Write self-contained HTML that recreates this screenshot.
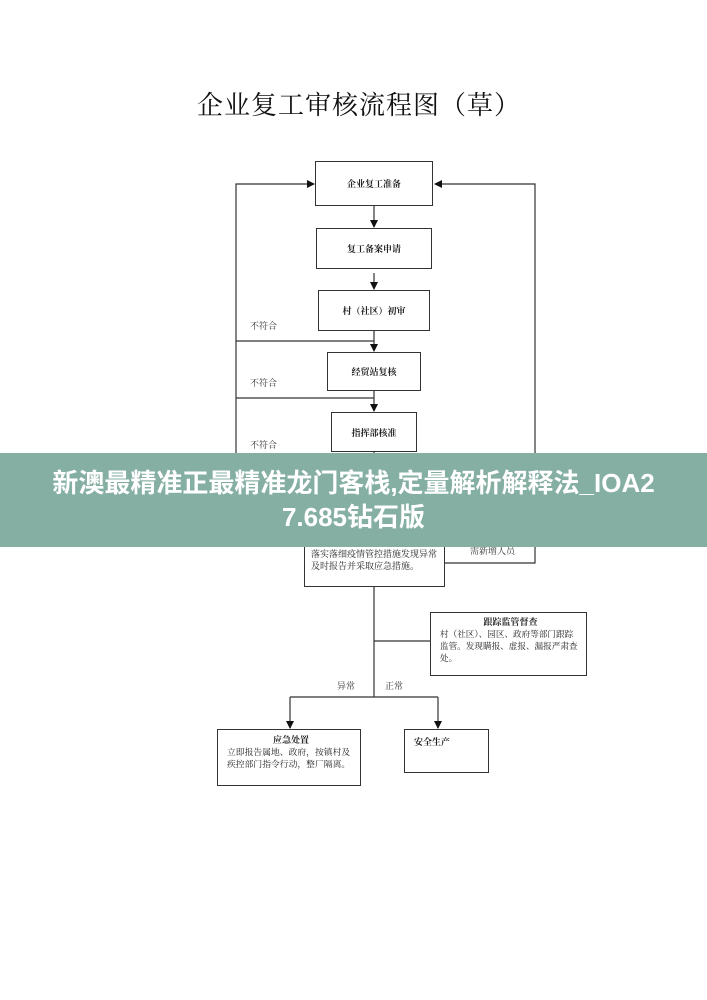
<!DOCTYPE html>
<html><head><meta charset="utf-8"><style>
body{margin:0;width:707px;height:1000px;background:#fff;position:relative;overflow:hidden;font-family:"Liberation Serif","Noto Serif CJK SC",serif;}
.b{position:absolute;border:1.3px solid #333;box-sizing:border-box;background:#fff;font-size:9px;font-weight:bold;display:flex;align-items:center;justify-content:center;color:#222}
.t{position:absolute;font-size:9px;color:#333;line-height:12px}
</style></head><body>
<div style="position:absolute;left:197px;top:85px;font-size:26px;letter-spacing:1px;color:#111;white-space:nowrap">企业复工审核流程图（草）</div>
<svg width="707" height="1000" style="position:absolute;left:0;top:0">
<defs><marker id="a" markerWidth="8" markerHeight="8" refX="7" refY="4" orient="auto" markerUnits="userSpaceOnUse"><path d="M0,0L8,4L0,8z" fill="#111"/></marker></defs>
<g stroke="#333" stroke-width="1.2" fill="none">
<line x1="374" y1="205" x2="374" y2="227" marker-end="url(#a)"/>
<line x1="374" y1="273" x2="374" y2="289" marker-end="url(#a)"/>
<line x1="374" y1="330" x2="374" y2="351" marker-end="url(#a)"/>
<line x1="374" y1="390" x2="374" y2="411" marker-end="url(#a)"/>
<line x1="374" y1="451" x2="374" y2="470"/>
<polyline points="374,341 236,341 236,184 314,184" marker-end="url(#a)"/>
<line x1="236" y1="398" x2="374" y2="398"/>
<line x1="236" y1="459" x2="374" y2="459"/>
<line x1="236" y1="341" x2="236" y2="470"/>
<polyline points="444,563 535,563 535,184 435,184" marker-end="url(#a)"/>
<line x1="374" y1="586" x2="374" y2="697"/>
<line x1="374" y1="641" x2="430" y2="641"/>
<line x1="290" y1="697" x2="438" y2="697"/>
<line x1="290" y1="697" x2="290" y2="728" marker-end="url(#a)"/>
<line x1="438" y1="697" x2="438" y2="728" marker-end="url(#a)"/>
</g></svg>
<div class="b" style="left:315px;top:161px;width:118px;height:45px">企业复工准备</div>
<div class="b" style="left:316px;top:228px;width:116px;height:41px">复工备案申请</div>
<div class="b" style="left:318px;top:290px;width:112px;height:41px">村（社区）初审</div>
<div class="b" style="left:327px;top:352px;width:94px;height:39px">经贸站复核</div>
<div class="b" style="left:331px;top:412px;width:86px;height:40px">指挥部核准</div>
<div class="t" style="left:250px;top:320px">不符合</div>
<div class="t" style="left:250px;top:377px">不符合</div>
<div class="t" style="left:250px;top:439px">不符合</div>
<div class="b" style="left:304px;top:533px;width:141px;height:54px;display:block;font-weight:normal;padding:2px 6px;line-height:12px"><div style="text-align:center">复工</div>落实落细疫情管控措施发现异常及时报告并采取应急措施。</div>
<div class="t" style="left:470px;top:545px">需新增人员</div>
<div class="b" style="left:430px;top:612px;width:157px;height:64px;display:block;font-weight:normal;padding:3px 5px 3px 9px;line-height:12px;font-size:8.6px"><div style="text-align:center;font-weight:bold;font-size:9px">跟踪监管督查</div>村（社区）、园区、政府等部门跟踪监管。发现瞒报、虚报、漏报严肃查处。</div>
<div class="t" style="left:337px;top:680px">异常</div>
<div class="t" style="left:385px;top:680px">正常</div>
<div class="b" style="left:217px;top:729px;width:144px;height:57px;display:block;font-weight:normal;padding:4px 5px 4px 9px;line-height:12px;font-size:8.8px"><div style="text-align:center;font-weight:bold;font-size:9px">应急处置</div>立即报告属地、政府，按镇村及疾控部门指令行动，整厂隔离。</div>
<div class="b" style="left:404px;top:729px;width:85px;height:44px;display:block;padding:5px 9px">安全生产</div>
<div style="position:absolute;left:0;top:453px;width:707px;height:94px;background:#86afa4;color:#fff;font-family:'Liberation Sans','Noto Sans CJK SC',sans-serif;font-weight:bold;font-size:26px;line-height:34px;text-align:center;padding-top:13px;box-sizing:border-box">新澳最精准正最精准龙门客栈,定量解析解释法_IOA2<br>7.685钻石版</div>
</body></html>
